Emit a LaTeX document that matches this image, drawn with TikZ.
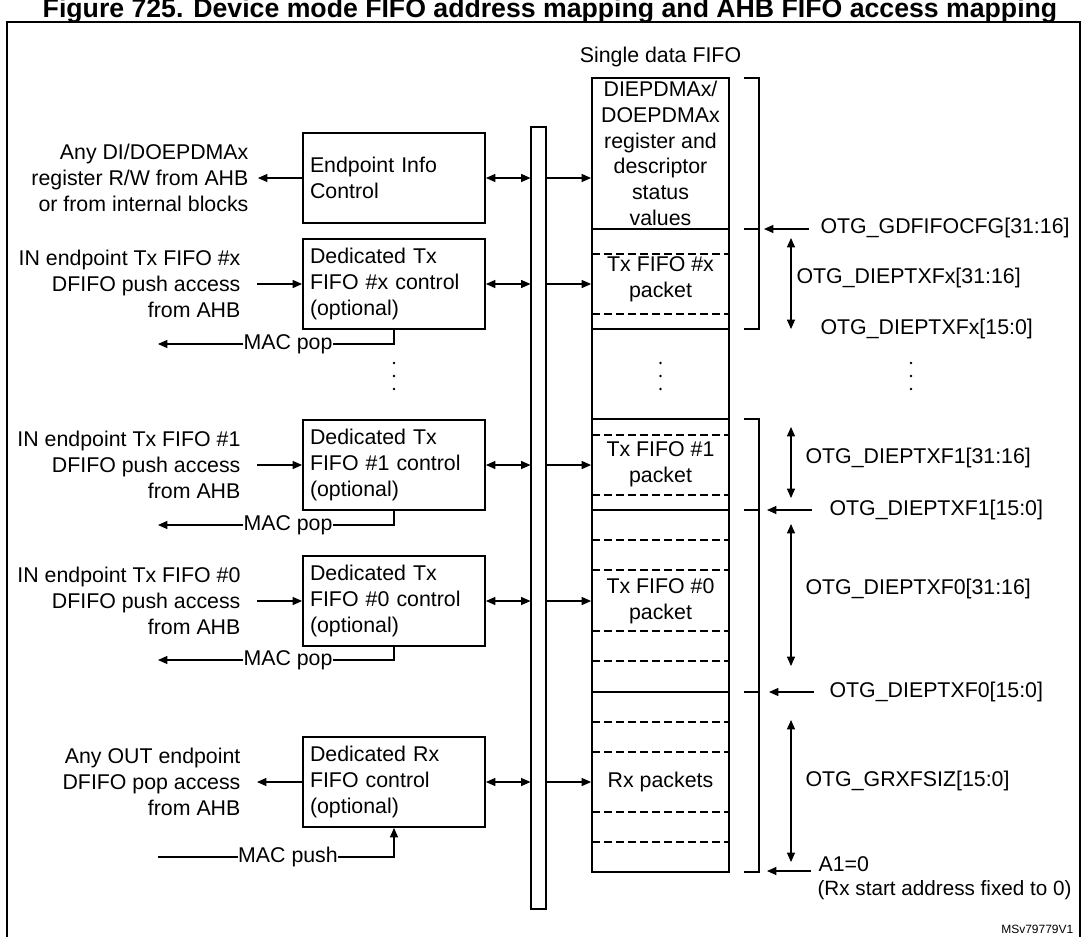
\documentclass[tikz,border=0pt]{standalone}
\usepackage{fontspec}
\setmainfont{Liberation Sans}
\usetikzlibrary{positioning,arrows.meta}

\tikzset{
  lbl/.style={font=\fontsize{16}{19.3}\selectfont, inner sep=1pt},
  box/.style={draw, line width=1.4pt, minimum width=136.5pt, minimum height=67.5pt,
              text width=126pt, align=left, lbl},
  seg/.style={draw, line width=1.4pt, minimum width=102.75pt, align=center, lbl, inner sep=0pt},
  dsh/.style={dashed, dash pattern=on 6pt off 3pt, line width=0.8pt},
  arr/.style={-{Triangle[length=7pt,width=6pt]}, line width=0.8pt},
  dbl/.style={{Triangle[length=7pt,width=6pt]}-{Triangle[length=7pt,width=6pt]}, line width=0.8pt}
}

\begin{document}
\begin{tikzpicture}[x=0.75pt,y=-0.75pt]
  \useasboundingbox (0,0) rectangle (1084,936);
  \node[font=\bfseries\fontsize{20}{22}\selectfont, anchor=base] (title) at (550,17)
    {Figure 725. Device mode FIFO address mapping and AHB FIFO access mapping};
  \draw[line width=1pt] (7,940) |- (1080,22) -- (1080,940);

  % bus
  \node[draw, line width=0.8pt, minimum width=11.25pt, minimum height=586.5pt, inner sep=0pt] (bus) at (538.5,518) {};

  % control blocks
  \node[box] (info) at (394,178) {Endpoint Info\\Control\\[4pt]};
  \node[box] (txx)  at (394,284) {Dedicated Tx\\FIFO \#x control\\(optional)};
  \node[box] (tx1)  at (394,465) {Dedicated Tx\\FIFO \#1 control\\(optional)};
  \node[box] (tx0)  at (394,601) {Dedicated Tx\\FIFO \#0 control\\(optional)};
  \node[box] (rx)   at (394,782) {Dedicated Rx\\FIFO control\\(optional)};

  % FIFO
  \node (fifo) at (660.5,57) [lbl] {Single data FIFO};
  \node[seg, minimum height=113.25pt] (fA) at (660.5,153.5) {DIEPDMAx/\\DOEPDMAx\\register and\\descriptor\\status\\values};
  \node[seg, minimum height=75pt]     (fB) at (660.5,279) {Tx FIFO \#x\\packet};
  \node[seg, minimum height=67.5pt]   (fC) at (660.5,374) {};
  \node[seg, minimum height=68.25pt]  (fD) at (660.5,464.5) {Tx FIFO \#1\\packet};
  \node[seg, minimum height=136.5pt]  (fE) at (660.5,601) {Tx FIFO \#0\\packet};
  \node[seg, minimum height=135pt]    (fF) at (660.5,782) {Rx packets};
  \foreach \y in {254,314,435,495,540,570,631,661,722,752,812,842}
    \draw[dsh] (592,\y) -- (729,\y);

  % connections
  \foreach \b in {info,txx,tx1,tx0,rx} {
    \draw[dbl] (\b.east) -- (\b.east -| bus.west);
    \draw[arr] (\b.east -| bus.east) -- (\b.east -| fA.west);
  }

  % left side texts
  \node[lbl, align=right, anchor=east] (tinfo) at (250,178) {Any DI/DOEPDMAx\\register R/W from AHB\\or from internal blocks};
  \draw[arr] (info.west) -- (258,178);
  \foreach \b/\n/\y in {txx/x/284,tx1/1/465,tx0/0/601} {
    \node[lbl, align=right, anchor=east] (t\b) at (242,\y) {IN endpoint Tx FIFO \#\n\\DFIFO push access\\from AHB};
    \draw[arr] (257,\y) -- (\b.west);
  }
  \node[lbl, align=right, anchor=east] (trx) at (242,782) {Any OUT endpoint\\DFIFO pop access\\from AHB};
  \draw[arr] (rx.west) -- (257,782);

  % MAC pop / push
  \foreach \b/\y in {txx/344,tx1/525,tx0/660} {
    \node[lbl, fill=white, inner sep=0pt] (pop\b) at (288,\y) {MAC pop};
    \draw[line width=0.8pt] (\b.south) |- (pop\b.east);
    \draw[arr] (pop\b.west) -- (158,\y);
  }
  \node[lbl, fill=white, inner sep=0pt] (push) at (288,857) {MAC push};
  \draw[line width=0.8pt] (158,857) -- (push.west);
  \draw[arr] (push.east) -| (rx.south);

  % dots
  \foreach \x in {394,660.5,911}
    \foreach \y in {363,376,389}
      \fill (\x,\y) circle (1pt);

  % brackets
  \draw[line width=0.8pt] (744,78) -| (759,329) -- (744,329);
  \draw[line width=0.8pt] (744,229) -- (759,229);
  \draw[line width=0.8pt] (744,419) -| (759,872) -- (744,872);
  \draw[line width=0.8pt] (744,510) -- (759,510);
  \draw[line width=0.8pt] (744,692) -- (759,692);

  % address labels
  \node[lbl, anchor=west] (gdf) at (819,228) {OTG\_GDFIFOCFG[31:16]};
  \draw[arr] (809,229) -- (764,229);
  \draw[dbl] (791,238) -- (791,329);
  \node[lbl, anchor=west] (fx) at (795,278) {OTG\_DIEPTXFx[31:16]};
  \node[lbl, anchor=west] (fx0) at (819,329) {OTG\_DIEPTXFx[15:0]};
  \draw[dbl] (791,427) -- (791,498);
  \node[lbl, anchor=west] (f1) at (804,458) {OTG\_DIEPTXF1[31:16]};
  \node[lbl, anchor=west] (f10) at (828,510) {OTG\_DIEPTXF1[15:0]};
  \draw[arr] (812,510) -- (767,510);
  \draw[dbl] (791,524) -- (791,666);
  \node[lbl, anchor=west] (f0) at (804,589) {OTG\_DIEPTXF0[31:16]};
  \node[lbl, anchor=west] (f00) at (828,692) {OTG\_DIEPTXF0[15:0]};
  \draw[arr] (814,692) -- (769,692);
  \draw[dbl] (791,720) -- (791,862);
  \node[lbl, anchor=west] (grx) at (804,781) {OTG\_GRXFSIZ[15:0]};
  \node[lbl, anchor=west] (a1) at (817,864) {A1=0};
  \draw[arr] (811,871) -- (767,871);
  \node[lbl, anchor=west, font=\fontsize{15.5}{18}\selectfont] (rxs) at (816,890) {(Rx start address fixed to 0)};
  \node[font=\fontsize{9}{10}\selectfont, anchor=east] (ms) at (1078,929) {MSv79779V1};
\end{tikzpicture}
\end{document}
